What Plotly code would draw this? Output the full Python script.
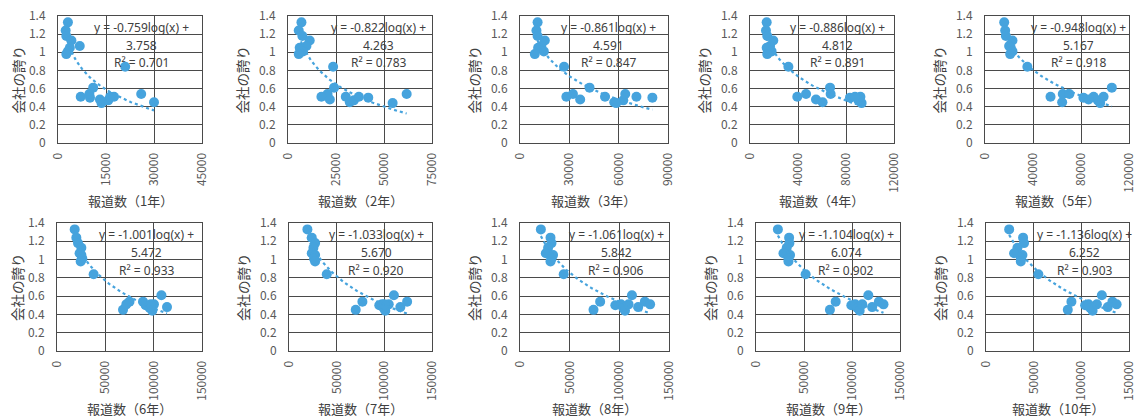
import numpy as np
import plotly.graph_objects as go

# ---- data -------------------------------------------------------------
# company pride (y) – same 20 companies in every panel
PRIDE = [1.33, 1.24, 1.18, 1.13, 1.07, 1.05, 1.01, 0.98, 0.84, 0.61,
         0.45, 0.54, 0.50, 0.51, 0.47, 0.44, 0.51, 0.48, 0.54, 0.51]

# cumulative number of news reports (x) per period, same company order
x_year1 = [3100, 2400, 2600, 4200, 6800, 3700, 3100, 2600, 21000, 11000,
           30000, 26000, 10000, 7100, 15700, 13600, 17500, 13100, 9800, 16300]
x_year2 = [7000, 5600, 7500, 11300, 9600, 6100, 7800, 5600, 23500, 24000,
           32200, 20600, 41800, 17400, 34300, 54500, 36900, 21800, 61800, 30100]
x_year3 = [10700, 10000, 10700, 15100, 13000, 11000, 14500, 9000, 26800, 42300,
           57300, 32200, 80500, 28200, 62800, 58500, 51700, 36600, 64000, 70800]
x_year4 = [13900, 13300, 14400, 19400, 16700, 13900, 18000, 14400, 32000, 66700,
           60500, 46700, 83300, 39400, 90300, 93000, 92000, 55000, 67200, 87500]
x_year5 = [16000, 16800, 17400, 22900, 20100, 21500, 22900, 21000, 35300, 105700,
           64300, 64800, 82000, 54600, 94000, 96000, 90500, 86300, 70300, 98800]
x_year6 = [18300, 20000, 21700, 25200, 23400, 25200, 26200, 24500, 37900, 108000,
           68300, 75000, 91700, 71700, 95900, 98600, 100300, 113800, 89000, 97000]
x_year7 = [19300, 23900, 27400, 25600, 23900, 27400, 26300, 27400, 39600, 110000,
           70000, 77000, 94700, 97500, 99300, 101000, 104600, 116800, 123900, 100000]
x_year8 = [21000, 30700, 31700, 28300, 26000, 33300, 31700, 30700, 44000, 112700,
           74000, 80700, 96000, 101700, 104000, 105700, 109300, 119000, 125700, 131000]
x_year9 = [22800, 34500, 34800, 32000, 28600, 35500, 33800, 33800, 51700, 117000,
           77000, 83000, 99300, 103400, 105500, 108000, 110700, 121000, 128000, 132800]
x_year10 = [24300, 38900, 39900, 33000, 29500, 38200, 36500, 36500, 54900, 121500,
            85800, 89600, 104000, 107600, 109400, 111800, 116300, 127800, 132600, 137000]

# logarithmic trend-line coefficients shown on the chart (y = a·log(x) + b)
SLOPES = [-0.759, -0.822, -0.861, -0.886, -0.948, -1.001, -1.033, -1.061, -1.104, -1.136]
INTERCEPTS = [3.758, 4.263, 4.591, 4.812, 5.167, 5.472, 5.670, 5.842, 6.074, 6.252]
R2 = [0.701, 0.783, 0.847, 0.891, 0.918, 0.933, 0.920, 0.906, 0.902, 0.903]

X_TITLES = ["報道数（1年）", "報道数（2年）", "報道数（3年）", "報道数（4年）", "報道数（5年）",
            "報道数（6年）", "報道数（7年）", "報道数（8年）", "報道数（9年）", "報道数（10年）"]
X_MAX = [45000, 75000, 90000, 120000, 120000, 150000, 150000, 150000, 150000, 150000]
X_DTICK = [15000, 25000, 30000, 40000, 40000, 50000, 50000, 50000, 50000, 50000]
Y_TICKS = [0, 0.2, 0.4, 0.6, 0.8, 1, 1.2, 1.4]
Y_TICK_TEXT = ["0", "0.2", "0.4", "0.6", "0.8", "1", "1.2", "1.4"]
Y_TITLE = "会社の誇り"

X_ALL = [x_year1, x_year2, x_year3, x_year4, x_year5,
         x_year6, x_year7, x_year8, x_year9, x_year10]

# ---- layout geometry (page pixels; the page body has an 8px margin) -----
OFF = 8
W, H = 1146 - OFF, 419 - OFF
COLS = [[(58, 202), (288, 432), (520, 668), (750, 894), (985, 1129)],
        [(57, 202), (289, 432), (520, 669), (756, 900), (986, 1129)]]
ROWS = [(16, 143), (223, 351)]
LABEL_FRAC = [0.58, 0.63, 0.60, 0.61, 0.65, 0.62, 0.61, 0.645, 0.625, 0.69]
YTITLE_GAP = [40, 46, 46, 46, 46]


def px(v):
    return (v - OFF) / W


def py(v):
    return 1 - (v - OFF) / H


BLUE = "#46A3DD"
GRID = "#4a4a4a"
TICK = "#595959"
FONT = "Noto Sans CJK JP, Noto Sans, sans-serif"
FONT_TXT = "Noto Sans, Noto Sans CJK JP, sans-serif"

fig = go.Figure()
annotations = []
layout = {}

for i in range(10):
    r, c = divmod(i, 5)
    n = i + 1
    xa = "x" if n == 1 else f"x{n}"
    ya = "y" if n == 1 else f"y{n}"
    x0, x1 = COLS[r][c]
    top, bot = ROWS[r]
    xs = X_ALL[i]

    fig.add_trace(go.Scatter(
        x=xs, y=PRIDE, mode="markers", xaxis=xa, yaxis=ya,
        marker=dict(color=BLUE, size=10, line=dict(width=0)),
        showlegend=False, hoverinfo="x+y"))

    tx = np.linspace(min(xs), max(xs), 120)
    ty = SLOPES[i] * np.log10(tx) + INTERCEPTS[i]
    fig.add_trace(go.Scatter(
        x=tx, y=ty, mode="lines", xaxis=xa, yaxis=ya,
        line=dict(color=BLUE, width=2.2, dash="dot"),
        showlegend=False, hoverinfo="skip"))

    xkey = "xaxis" if n == 1 else f"xaxis{n}"
    ykey = "yaxis" if n == 1 else f"yaxis{n}"
    layout[xkey] = dict(
        domain=[px(x0), px(x1)], anchor=ya, range=[0, X_MAX[i]],
        dtick=X_DTICK[i], tick0=0, tickformat="d", tickangle=-90,
        showgrid=True, gridcolor=GRID, gridwidth=1, automargin=False,
        showline=True, linecolor=GRID, linewidth=1, mirror=True,
        zeroline=False, ticks="", ticklabelstandoff=4,
        ticklabeloverflow="allow",
        tickfont=dict(family=FONT, size=12, color=TICK))
    layout[ykey] = dict(
        domain=[py(bot), py(top)], anchor=xa, range=[0, 1.4],
        tickmode="array", tickvals=Y_TICKS, ticktext=Y_TICK_TEXT,
        automargin=False, ticklabeloverflow="allow",
        showgrid=True, gridcolor=GRID, gridwidth=1,
        showline=True, linecolor=GRID, linewidth=1, mirror=True,
        zeroline=False, ticks="", ticklabelstandoff=9,
        tickfont=dict(family=FONT, size=12, color=TICK))

    # axis titles
    annotations.append(dict(
        text=Y_TITLE, xref="paper", yref="paper",
        x=px(x0 - YTITLE_GAP[c]), y=py((top + bot) / 2), textangle=-90,
        showarrow=False, xanchor="center", yanchor="middle",
        font=dict(family=FONT, size=13.5, color="#404040")))
    annotations.append(dict(
        text=X_TITLES[i], xref="paper", yref="paper",
        x=px((x0 + x1) / 2), y=py(bot + 57),
        showarrow=False, xanchor="center", yanchor="middle",
        font=dict(family=FONT, size=13, color="#404040")))

    # trend-line label
    cx = px(x0 + LABEL_FRAC[i] * (x1 - x0))
    lines = [f"y = {SLOPES[i]:.3f}log(x) +", f"{INTERCEPTS[i]:.3f}", f"R² = {R2[i]:.3f}"]
    for txt, off in zip(lines, [11, 29, 47]):
        annotations.append(dict(
            text=txt, xref="paper", yref="paper",
            x=cx, y=py(top + off), showarrow=False,
            xanchor="center", yanchor="middle",
            font=dict(family=FONT_TXT, size=12, color="#404040")))

fig.update_layout(
    template="none",
    width=W, height=H, margin=dict(l=0, r=0, t=0, b=0, pad=0),
    paper_bgcolor="white", plot_bgcolor="white",
    annotations=annotations, showlegend=False,
    font=dict(family=FONT), **layout)

fig.write_html("out.html")
